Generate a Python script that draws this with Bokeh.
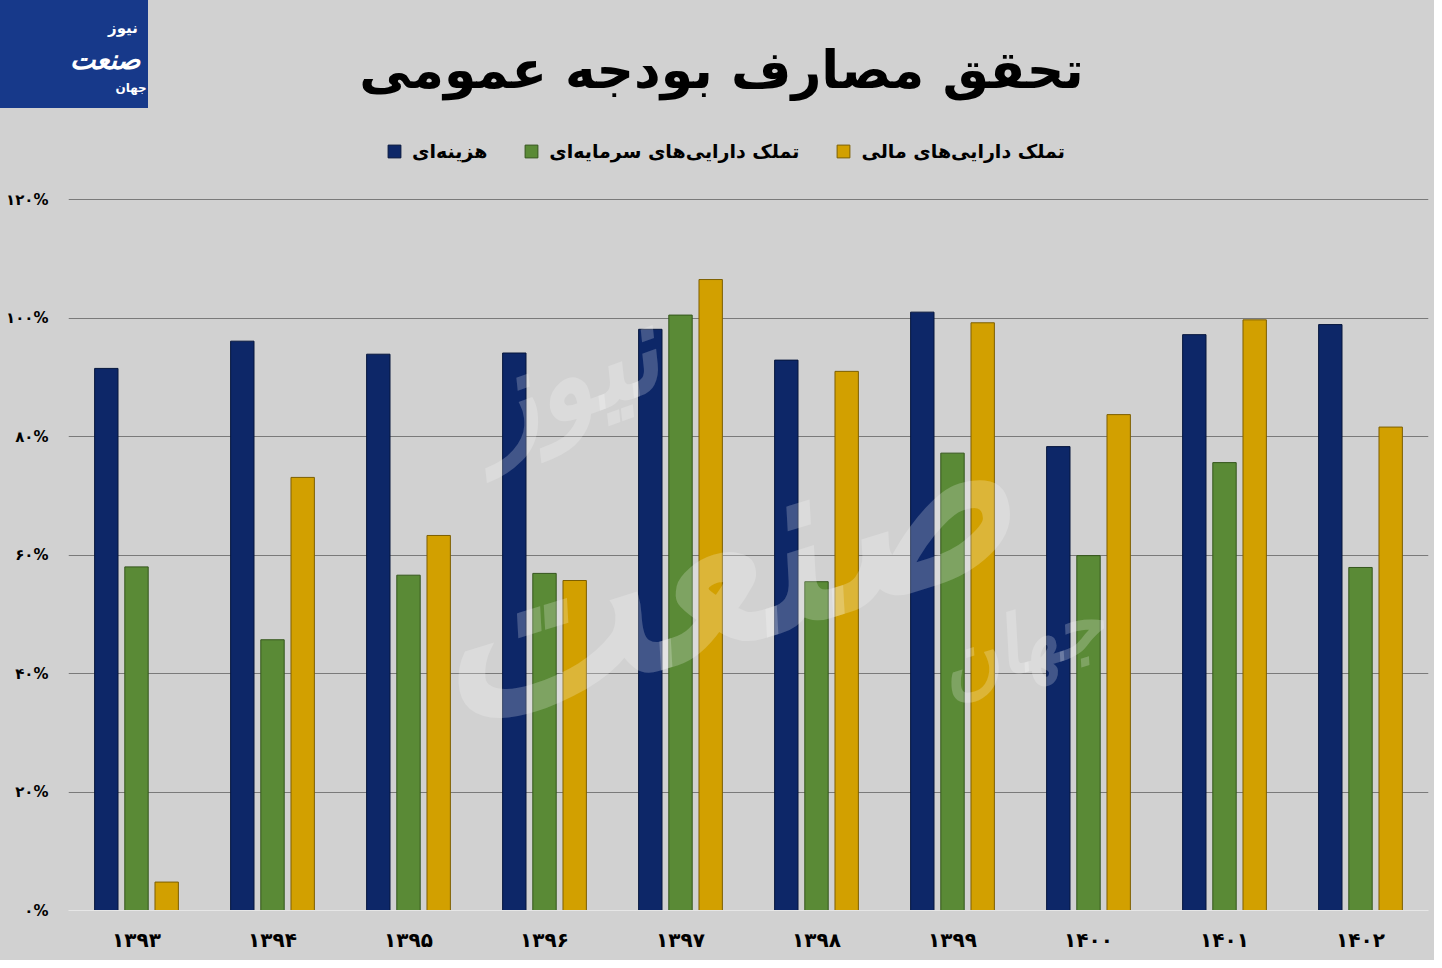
from bokeh.plotting import figure
from bokeh.models import (ColumnDataSource, FactorRange, Range1d, FixedTicker,
                          Legend, LegendItem, Label)
from bokeh.transform import dodge
from bokeh.embed import file_html
from bokeh.resources import INLINE

# ---------------- data ----------------
years = ["۱۳۹۳", "۱۳۹۴", "۱۳۹۵", "۱۳۹۶", "۱۳۹۷", "۱۳۹۸", "۱۳۹۹", "۱۴۰۰", "۱۴۰۱", "۱۴۰۲"]
current_exp = [91.5, 96.1, 93.9, 94.1, 98.1, 92.9, 101.0, 78.3, 97.2, 98.9]
capital_assets = [58.0, 45.7, 56.6, 56.9, 100.5, 55.5, 77.2, 59.9, 75.6, 57.9]
financial_assets = [4.8, 73.1, 63.3, 55.7, 106.5, 91.0, 99.2, 83.7, 99.7, 81.6]

series_names = ["هزینه‌ای", "تملک دارایی‌های سرمایه‌ای", "تملک دارایی‌های مالی"]
series_colors = ["#0d2768", "#5a8a36", "#d2a000"]
series_edges = ["#06163d", "#34561c", "#7d5f00"]

y_ticks = [0, 20, 40, 60, 80, 100, 120]
y_tick_labels = ["۰%", "۲۰%", "۴۰%", "۶۰%", "۸۰%", "۱۰۰%", "۱۲۰%"]

title_text = "تحقق مصارف بودجه عمومی"
logo_main = "صنعت"
logo_top = "نیوز"
logo_side = "جهان"

BG = "#d1d1d1"
LOGO = "#17398a"
FONT = "DejaVu Sans"

source = ColumnDataSource(dict(year=years, current=current_exp,
                               capital=capital_assets, financial=financial_assets))

p = figure(x_range=FactorRange(factors=years), y_range=Range1d(0, 153.6),
           width=1434, height=960, output_backend="svg", toolbar_location=None,
           background_fill_color=None, border_fill_color=None, outline_line_color=None,
           min_border_left=68, min_border_right=6, min_border_top=0, min_border_bottom=50)
p.styles = {"background": f"linear-gradient({LOGO}, {LOGO}) 0 0 / 148px 108px no-repeat, {BG}"}

# axes
p.yaxis.ticker = FixedTicker(ticks=y_ticks)
p.yaxis.major_label_overrides = {t: l for t, l in zip(y_ticks, y_tick_labels)}
p.yaxis.axis_line_color = None
p.yaxis.major_tick_line_color = None
p.yaxis.major_tick_out = 0
p.yaxis.major_tick_in = 0
p.yaxis.minor_tick_line_color = None
p.yaxis.major_label_standoff = 20
p.yaxis.major_label_text_font = FONT
p.yaxis.major_label_text_font_style = "bold"
p.yaxis.major_label_text_font_size = "15px"
p.yaxis.major_label_text_color = "black"

p.xaxis.axis_line_color = "#e6e6e6"
p.xaxis.axis_line_width = 1
p.xaxis.major_tick_line_color = None
p.xaxis.minor_tick_line_color = None
p.xaxis.major_tick_out = 0
p.xaxis.major_label_standoff = 17
p.xaxis.major_label_text_font = FONT
p.xaxis.major_label_text_font_style = "bold"
p.xaxis.major_label_text_font_size = "20px"
p.xaxis.major_label_text_color = "black"

p.xgrid.grid_line_color = None
p.ygrid.ticker = FixedTicker(ticks=y_ticks[1:])
p.ygrid.grid_line_color = "#7a7a7a"
p.ygrid.grid_line_width = 1

# bars
offsets = [-0.222, 0.0, 0.222]
keys = ["current", "capital", "financial"]
renderers = []
for key, off, col, edge in zip(keys, offsets, series_colors, series_edges):
    r = p.vbar(x=dodge("year", off, range=p.x_range), top=key, width=0.172,
               source=source, fill_color=col, line_color=edge, line_width=1)
    renderers.append(r)

legend = Legend(items=[LegendItem(label=n, renderers=[r]) for n, r in zip(series_names, renderers)],
                location=(318, 748), orientation="horizontal",
                background_fill_alpha=0, border_line_color=None,
                label_text_font=FONT, label_text_font_style="bold",
                label_text_font_size="19px", label_text_color="black",
                glyph_width=16, glyph_height=16, spacing=36, padding=0, margin=0,
                label_standoff=10)
p.add_layout(legend)

# faint watermark (over the bars, as in the original)
for txt, x, y, size, ang in [(logo_main, 4.75, 58.0, "230px", 0.30),
                             (logo_top, 3.65, 90.0, "120px", 0.35),
                             (logo_side, 7.0, 45.0, "80px", 0.30)]:
    p.add_layout(Label(x=x, y=y, text=txt, text_align="center", text_baseline="middle",
                       text_font=FONT, text_font_style="bold italic", text_font_size=size,
                       text_color="white", text_alpha=0.22, angle=ang))

# title
p.add_layout(Label(x=4.801, y=141.8, text=title_text, text_align="center",
                   text_baseline="middle", text_font=FONT, text_font_style="bold",
                   text_font_size="52px", text_color="black"))

# logo texts (box painted as element background)
p.add_layout(Label(x=0.27, y=143.6, text=logo_main, text_align="center", text_baseline="middle",
                   text_font=FONT, text_font_style="bold italic", text_font_size="27px",
                   text_color="white"))
p.add_layout(Label(x=0.40, y=149.0, text=logo_top, text_align="center", text_baseline="middle",
                   text_font=FONT, text_font_style="bold", text_font_size="15px",
                   text_color="white"))
p.add_layout(Label(x=0.46, y=138.8, text=logo_side, text_align="center", text_baseline="middle",
                   text_font=FONT, text_font_style="bold", text_font_size="12px",
                   text_color="white"))

open("out.html", "w").write(file_html(p, INLINE))
